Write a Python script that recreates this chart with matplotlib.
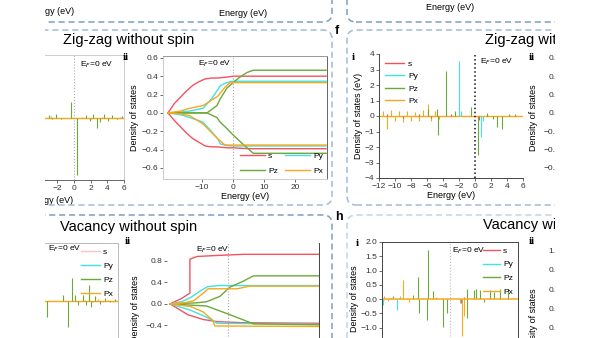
import matplotlib
matplotlib.use("Agg")
import matplotlib.pyplot as plt
from matplotlib.patches import FancyBboxPatch, Rectangle
from matplotlib.lines import Line2D

plt.rcParams['font.family'] = ['Liberation Sans', 'DejaVu Sans']
plt.rcParams['font.size'] = 6

W, H = 600, 338

# orbital colours
C_S = '#f4525f'
C_PY = '#3fe3e3'
C_PZ = '#6ca83a'
C_PX = '#f7a81b'

# ---- zig-zag without spin, i (PDOS spikes) ----
a_pz_e = [-3.0, -2.6, -2.2, -1.6, -0.4, 0.4, 1.4, 1.9, 2.3, 2.75, 3.1, 3.6, 4.1, 4.6, 5.2, 5.7]
a_pz_v = [0.15, -0.12, 0.2, -0.1, 1.0, -3.65, 0.15, -0.2, 0.25, -0.7, -0.3, 0.2, -0.2, 0.15, -0.1, 0.1]
a_px_e = [-2.8, -1.2, 1.0, 2.0, 3.3, 4.5, 5.5]
a_px_v = [0.08, -0.06, 0.05, -0.08, 0.06, -0.05, 0.05]

# ---- zig-zag without spin, ii (integrated DOS, up / down) ----
b_s_e = [-21, -19, -17, -15, -13, -11, -9, -7, -5, -2, 0, 5, 30]
b_s_up = [0, 0.1, 0.17, 0.24, 0.3, 0.34, 0.37, 0.38, 0.38, 0.39, 0.4, 0.4, 0.4]
b_s_dn = [0, -0.08, -0.15, -0.22, -0.28, -0.32, -0.36, -0.37, -0.37, -0.38, -0.38, -0.39, -0.39]
b_py_e = [-21, -17, -14, -9.7, -7, -5, -4, -2, 0, 30]
b_py_up = [0, 0.01, 0.02, 0.05, 0.15, 0.25, 0.3, 0.33, 0.345, 0.345]
b_py_dn = [0, -0.02, -0.05, -0.1, -0.2, -0.28, -0.34, -0.355, -0.36, -0.36]
b_pz_e = [-21, -8.4, -5.2, -4.2, -2, 0, 2.2, 4.5, 6.5, 30]
b_pz_up = [0, 0, 0.08, 0.15, 0.27, 0.33, 0.39, 0.44, 0.465, 0.465]
b_pz_dn = [0, 0, -0.05, -0.1, -0.17, -0.24, -0.31, -0.38, -0.44, -0.44]
b_px_e = [-21, -17, -14, -9.7, -5, -2.6, -1, 30]
b_px_up = [0, 0.02, 0.05, 0.08, 0.18, 0.28, 0.33, 0.33]
b_px_dn = [0, -0.01, -0.03, -0.12, -0.28, -0.35, -0.35, -0.35]

# ---- zig-zag with spin, i ----
c_s_e = [-11, -9, -7, -5.5, -3, 0.5, 1.5]
c_s_v = [0.1, -0.1, 0.12, -0.1, 0.1, -0.25, 0.1]
c_py_e = [-2.0, -1.7, 0.7, 1.0]
c_py_v = [3.57, 0.3, -1.36, -0.3]
c_pz_e = [-5.9, -4.75, -4.6, -3.6, -2.5, -0.5, 0.4, 1.5, 2.2, 2.7, 3.4, 4.2, 5.0]
c_pz_v = [0.45, 0.45, -1.2, 2.9, 0.3, 0.6, -2.5, 0.2, -0.2, -0.7, -0.85, 0.15, 0.1]
c_px_e = [-11.5, -11, -10.5, -10, -9.5, -9, -8.5, -8, -7.5, -7, -6.5, -5.9, -5.5, -5, -4.5]
c_px_v = [0.3, -0.85, 0.4, -0.3, 0.35, -0.4, 0.3, -0.35, 0.25, -0.3, 0.4, 0.78, -0.3, 0.3, -0.2]

# ---- vacancy without spin, i ----
e_pz_e = [-2.5, -0.64, 0.04, 0.5, 0.84, 1.24, 1.84, 2.2, 2.56, 2.7, 3.24, 3.84, 4.4, 5.0, 5.6]
e_pz_v = [-0.54, 0.2, -0.89, 0.8, 0.2, -0.14, 0.2, -0.14, 0.55, -0.2, 0.17, -0.1, 0.1, -0.05, 0.08]
e_px_e = [2.0, 3.0, 3.6, 4.2, 4.8, 5.4]
e_px_v = [0.05, -0.05, 0.06, -0.04, 0.05, -0.05]

# ---- vacancy without spin, ii ----
f_s_e_up = [-18.7, -15, -12.3, -12.3, -10, -3, 5, 30]
f_s_up = [0, 0.1, 0.2, 0.83, 0.88, 0.9, 0.92, 0.92]
f_s_e_dn = [-18.7, -13, -8, -3.5, 5, 30]
f_s_dn = [0, -0.2, -0.29, -0.33, -0.35, -0.36]
f_py_e_up = [-18.7, -15, -12, -9, -6.5, -3, 30]
f_py_up = [0, 0.04, 0.12, 0.24, 0.32, 0.34, 0.34]
f_py_e_dn = [-18.7, -12, -6.8, -3.5, 30]
f_py_dn = [0, -0.12, -0.25, -0.36, -0.38]
f_pz_e_up = [-18.7, -10, -6.9, -2.6, 0.6, 4.9, 8.2, 30]
f_pz_up = [0, 0.02, 0.04, 0.14, 0.31, 0.42, 0.52, 0.52]
f_pz_e_dn = [-18.7, -6.9, 0.6, 8.2, 30]
f_pz_dn = [0, -0.04, -0.2, -0.37, -0.39]
f_px_e_up = [-18.7, -14, -11, -8, -6.4, 3, 7, 30]
f_px_up = [0, 0.02, 0.06, 0.2, 0.28, 0.28, 0.33, 0.33]
f_px_e_dn = [-18.7, -12, -8, -5, -4.2, 30]
f_px_dn = [0, -0.05, -0.15, -0.3, -0.41, -0.42]

# ---- vacancy with spin, i ----
g_s_e = [-6.5, 1.2, 1.5]
g_s_v = [0.05, -0.15, 0.06]
g_py_e = [-7.4, -5.8, -5.5, 1.1]
g_py_v = [-0.2, -0.38, 0.1, -0.15]
g_pz_e = [-6.3, -4.1, -3.5, -3.45, -2.57, -2.4, -1.9, -0.74, -0.36, 1.84, 1.9, 2.6, 2.9, 3.3, 3.8, 4.4, 4.9, 5.5, 6.4]
g_pz_v = [0.1, 0.14, 0.76, -0.5, -0.73, 1.72, 0.28, -0.97, -0.5, 0.35, -0.67, 0.33, 0.35, 0.3, -0.1, 0.3, 0.25, 0.35, 0.35]
g_px_e = [-7.3, -6.8, -5.15, -4.5, -1.5, 1.3, 1.5]
g_px_v = [0.1, -0.08, 0.67, -0.1, 0.08, -1.3, -0.6]

labels = ['s', 'Py', 'Pz', 'Px']
colors = [C_S, C_PY, C_PZ, C_PX]

fig = plt.figure(figsize=(6, 3.38), dpi=100)


def px_axes(l, t, r, b):
    return fig.add_axes([l / W, 1 - b / H, (r - l) / W, (b - t) / H])


def style(ax, spine_cols):
    for side, c in spine_cols.items():
        if c is None:
            ax.spines[side].set_visible(False)
        else:
            ax.spines[side].set_color(c)
            ax.spines[side].set_linewidth(0.7)
    ax.tick_params(labelsize=6, length=2, width=0.5, pad=1.5, colors='#333333')


def spikes(ax, e, v, color, lw=0.8, alpha=1.0):
    ax.vlines(e, 0, v, color=color, lw=lw, alpha=alpha)


def handles(alpha_s=1.0):
    hs = []
    for lab, c in zip(labels, colors):
        hs.append(Line2D([], [], color=c, lw=1.0, alpha=alpha_s if lab == 's' else 1.0, label=lab))
    return hs


def fermi_text(ax, x, y, ha):
    ax.text(x, y, 'E$_F$=0 eV', fontsize=6, ha=ha, va='center', transform=ax.transAxes)


# A: zig-zag without spin, i
ax = px_axes(-26, 55, 124, 180)
style(ax, {'top': '#cccccc', 'right': '#cccccc', 'left': '#cccccc', 'bottom': '#666666'})
ax.axhline(0, color=C_PX, lw=1.0)
spikes(ax, a_px_e, a_px_v, C_PX)
spikes(ax, a_pz_e, a_pz_v, C_PZ)
ax.axvline(0, color='#aaaaaa', ls=':', lw=0.8)
ax.set_xlim(-12, 6)
ax.set_ylim(-4, 4)
ax.set_xticks(range(-12, 7, 2))
ax.set_yticks([])
ax.set_xlabel('Energy (eV)', fontsize=6.5)
ax.xaxis.set_label_coords((49 + 26) / 150, -16 / 125)
fermi_text(ax, (80 + 26) / 150, 1 - 10 / 125, 'left')

# B: zig-zag without spin, ii
ax = px_axes(163, 56, 327, 179)
style(ax, {'top': '#999999', 'right': '#666666', 'left': '#cccccc', 'bottom': '#cccccc'})
for e, up, dn, c in [(b_s_e, b_s_up, b_s_dn, C_S), (b_py_e, b_py_up, b_py_dn, C_PY),
                     (b_pz_e, b_pz_up, b_pz_dn, C_PZ), (b_px_e, b_px_up, b_px_dn, C_PX)]:
    ax.plot(e, up, color=c, lw=1.0)
    ax.plot(e, dn, color=c, lw=1.0)
ax.axvline(0, color='#aaaaaa', ls=':', lw=0.8)
ax.set_xlim(-22.6, 30.3)
ax.set_ylim(-0.72, 0.62)
ax.set_xticks([-10, 0, 10, 20])
ax.set_yticks([-0.6, -0.4, -0.2, 0.0, 0.2, 0.4, 0.6])
ax.set_xlabel('Energy (eV)', fontsize=6.5, labelpad=1)
ax.set_ylabel('Density of states', fontsize=6.5)
ax.yaxis.set_label_coords((139 - 163) / 164, 0.5)
fermi_text(ax, (231 - 163) / 164, 1 - 8 / 123, 'right')
hs = handles()
ax.legend([hs[0], hs[2], hs[1], hs[3]], ['s', 'Pz', 'Py', 'Px'], ncol=2, loc='lower right',
          frameon=False, fontsize=6, handlelength=3, columnspacing=0.8, labelspacing=0.9,
          borderaxespad=0.1, handletextpad=0.4)

# C: zig-zag with spin, i
ax = px_axes(379, 54, 523, 178)
style(ax, {'top': None, 'right': None, 'left': '#444444', 'bottom': '#444444'})
ax.axhline(0, color=C_PX, lw=1.0)
spikes(ax, c_px_e, c_px_v, C_PX)
spikes(ax, c_s_e, c_s_v, C_S)
spikes(ax, c_pz_e, c_pz_v, C_PZ)
spikes(ax, c_py_e, c_py_v, C_PY)
ax.axvline(0, color='#111111', ls=':', lw=1.1)
ax.set_xlim(-12, 6)
ax.set_ylim(-4, 4)
ax.set_xticks(range(-12, 7, 2))
ax.set_yticks(range(-4, 5))
ax.set_xlabel('Energy (eV)', fontsize=6.5, labelpad=1)
ax.set_ylabel('Density of states (eV)', fontsize=6.5, labelpad=1)
fermi_text(ax, (480 - 379) / 144, 1 - 8 / 124, 'left')
ax.legend(handles=handles(), loc='upper left', frameon=False, fontsize=6, handlelength=2.3,
          labelspacing=0.55, borderaxespad=0.3, handletextpad=0.5)

# D: zig-zag with spin, ii (mostly outside the crop)
ax = px_axes(565, 56, 730, 179)
style(ax, {'top': '#666666', 'right': '#666666', 'left': '#666666', 'bottom': '#666666'})
ax.set_ylim(-0.72, 0.62)
ax.set_yticks([-0.6, -0.4, -0.2, 0.0, 0.2, 0.4, 0.6])
ax.set_xticks([])
ax.set_ylabel('Density of states', fontsize=6.5)
ax.yaxis.set_label_coords((538 - 565) / 165, 0.5)

# E: vacancy without spin, i
ax = px_axes(-32, 243, 118, 359)
style(ax, {'top': '#bbbbbb', 'right': '#bbbbbb', 'left': '#bbbbbb', 'bottom': '#bbbbbb'})
ax.axhline(0, color=C_PX, lw=1.0)
spikes(ax, e_px_e, e_px_v, C_PX)
spikes(ax, e_pz_e, e_pz_v, C_PZ)
ax.set_xlim(-12, 6)
ax.set_ylim(-2, 2)
ax.set_xticks([])
ax.set_yticks([])
fermi_text(ax, (48 + 32) / 150, 1 - 6 / 116, 'left')
ax.legend(handles=handles(alpha_s=0.35), loc='upper right', frameon=False, fontsize=6,
          handlelength=2.2, labelspacing=0.75, borderaxespad=0.2, handletextpad=0.4)

# F: vacancy without spin, ii
ax = px_axes(167, 243, 319, 375)
style(ax, {'top': None, 'right': '#444444', 'left': None, 'bottom': '#bbbbbb'})
for e_up, up, e_dn, dn, c in [(f_s_e_up, f_s_up, f_s_e_dn, f_s_dn, C_S),
                              (f_py_e_up, f_py_up, f_py_e_dn, f_py_dn, C_PY),
                              (f_pz_e_up, f_pz_up, f_pz_e_dn, f_pz_dn, C_PZ),
                              (f_px_e_up, f_px_up, f_px_e_dn, f_px_dn, C_PX)]:
    ax.plot(e_up, up, color=c, lw=1.0)
    ax.plot(e_dn, dn, color=c, lw=1.0)
ax.axvline(0, color='#aaaaaa', ls=':', lw=0.8)
ax.set_xlim(-19.7, 29.4)
ax.set_ylim(-1.32, 1.13)
ax.set_yticks([-0.4, 0.0, 0.4, 0.8])
ax.set_xticks([])
ax.set_ylabel('Density of states', fontsize=6.5)
ax.yaxis.set_label_coords((140 - 167) / 152, 0.5)
fermi_text(ax, (229 - 167) / 152, 1 - 7 / 132, 'right')

# G: vacancy with spin, i
ax = px_axes(382, 242, 518, 356)
style(ax, {'top': '#444444', 'right': '#444444', 'left': '#444444', 'bottom': '#444444'})
spikes(ax, g_py_e, g_py_v, C_PY)
spikes(ax, g_s_e, g_s_v, C_S)
spikes(ax, g_pz_e, g_pz_v, C_PZ)
spikes(ax, g_px_e, g_px_v, C_PX)
ax.axhline(0, color=C_PX, lw=1.1)
ax.axvline(0, color='#bbbbbb', ls=':', lw=0.8)
ax.set_xlim(-7.5, 7.5)
ax.set_ylim(-2, 2)
ax.set_xticks([])
ax.set_yticks([-1.0, -0.5, 0.0, 0.5, 1.0, 1.5, 2.0])
ax.set_ylabel('Density of states', fontsize=6.5, labelpad=1)
fermi_text(ax, (452 - 382) / 136, 1 - 9 / 114, 'left')
ax.legend(handles=handles(), loc='upper right', frameon=False, fontsize=6,
          handlelength=2.0, labelspacing=0.7, borderaxespad=0.2, handletextpad=0.4)

# H: vacancy with spin, ii (mostly outside the crop)
ax = px_axes(565, 243, 730, 400)
style(ax, {'top': '#666666', 'right': '#666666', 'left': '#666666', 'bottom': '#666666'})
ax.set_ylim(-1.11, 1.31)
ax.set_yticks([0.0, 0.3, 0.6, 0.9, 1.2])
ax.set_xticks([])
ax.set_ylabel('Density of states', fontsize=6.5)
ax.yaxis.set_label_coords((538 - 565) / 165, 0.5)


# dashed rounded frames of the sub-figures
def dash_box(x0, y0, x1, y1, color):
    p = FancyBboxPatch((x0 / 100, (H - y1) / 100), (x1 - x0) / 100, (y1 - y0) / 100,
                       boxstyle="round,pad=0,rounding_size=0.09", transform=fig.dpi_scale_trans,
                       fill=False, ec=color, lw=1.1, ls=(0, (4, 2.5)), zorder=5)
    fig.add_artist(p)


dark = '#7f9ec2'
mid = '#a3bbd6'
light = '#c3d3e6'
dash_box(-20, -100, 332, 22, dark)
dash_box(347, -100, 700, 22, dark)
dash_box(-20, 30, 332, 205, mid)
dash_box(347, 30, 700, 205, mid)
dash_box(-20, 215, 332, 500, dark)
dash_box(347, 215, 700, 500, light)


def ftext(x, y, s, **kw):
    fig.text(x / W, 1 - y / H, s, va='center', **kw)


# labels of the row above (cut off)
ftext(50, 12, 'Energy (eV)', fontsize=6.5, ha='center')
ftext(243, 13, 'Energy (eV)', fontsize=6.5, ha='center')
ftext(450, 8, 'Energy (eV)', fontsize=6.5, ha='center')

ftext(63, 40, 'Zig-zag without spin', fontsize=10.5, ha='left')
ftext(485, 40, 'Zig-zag with spin', fontsize=10.5, ha='left')
ftext(60, 227, 'Vacancy without spin', fontsize=10.5, ha='left')
ftext(483, 225, 'Vacancy with spin', fontsize=10.5, ha='left')

ftext(337, 31, 'f', fontsize=9, ha='center', fontweight='bold')
ftext(339, 217, 'h', fontsize=9, ha='center', fontweight='bold')

for x, y, s in [(126, 57, 'ii'), (353, 57, 'i'), (532, 57, 'ii'),
                (128, 242, 'ii'), (357, 243, 'i'), (532, 242, 'ii')]:
    ftext(x, y, s, fontsize=8, ha='center', fontweight='bold', family='Liberation Serif')

# white margins of the crop
fig.add_artist(Rectangle((0, 0), 45 / W, 1, transform=fig.transFigure, fc='white', ec='none', zorder=20))
fig.add_artist(Rectangle((555 / W, 0), 45 / W, 1, transform=fig.transFigure, fc='white', ec='none', zorder=20))

fig.savefig('out.png', dpi=100)
